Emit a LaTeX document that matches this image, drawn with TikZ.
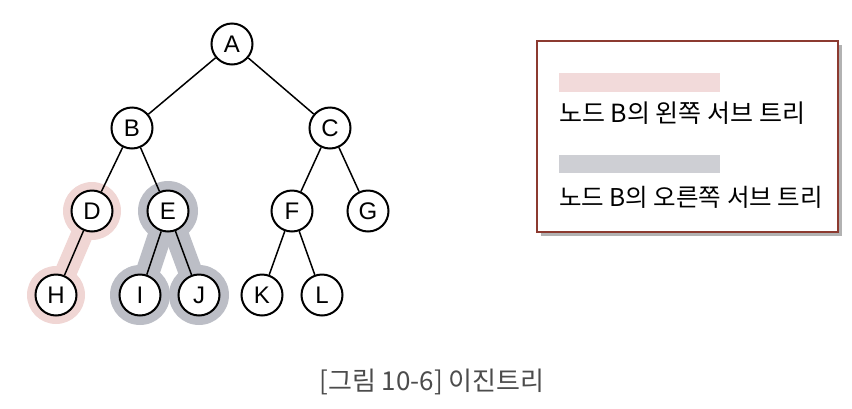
\documentclass[tikz,border=0pt]{standalone}
\usepackage{fontspec}
\setmainfont{Liberation Sans}
\newfontfamily\kr{Noto Sans CJK KR}
\usetikzlibrary{backgrounds}

\definecolor{pinkhalo}{RGB}{240,214,212}
\definecolor{greyhalo}{RGB}{188,190,198}
\definecolor{pinkbar}{RGB}{242,218,218}
\definecolor{greybar}{RGB}{206,207,212}
\definecolor{boxline}{RGB}{140,58,48}

\begin{document}
\begin{tikzpicture}[x=1pt,y=-1pt]

\tikzstyle{vtx} = [circle, draw=black, fill=white, line width=2pt,
  minimum size=41pt, inner sep=0pt, font=\fontsize{24}{24}\selectfont]
\tikzstyle{edge} = [line width=1.5pt]
\tikzstyle{lefthalo} = [pinkhalo]
\tikzstyle{righthalo} = [greyhalo]
\tikzstyle{legendtext} = [anchor=west, inner sep=0pt]

\useasboundingbox (0,0) rectangle (852,408);

% tree
\node[vtx] (A) at (232,44) {A};
\node[vtx] (B) at (132,128) {B};
\node[vtx] (C) at (330,128) {C};
\node[vtx] (D) at (92,211) {D};
\node[vtx] (E) at (168,211) {E};
\node[vtx] (F) at (292,211) {F};
\node[vtx] (G) at (368,211) {G};
\node[vtx] (H) at (56,295) {H};
\node[vtx] (I) at (140,295) {I};
\node[vtx] (J) at (199,295) {J};
\node[vtx] (K) at (262,295) {K};
\node[vtx] (L) at (322,295) {L};

\draw[edge] (A) -- (B);
\draw[edge] (A) -- (C);
\draw[edge] (B) -- (D);
\draw[edge] (B) -- (E);
\draw[edge] (C) -- (F);
\draw[edge] (C) -- (G);
\draw[edge] (D) -- (H);
\draw[edge] (E) -- (I);
\draw[edge] (E) -- (J);
\draw[edge] (F) -- (K);
\draw[edge] (F) -- (L);

% subtrees of B
\begin{scope}[on background layer]
  \fill[lefthalo] (D) circle (29);
  \fill[lefthalo] (H) circle (29);
  \draw[lefthalo, line width=22pt] (D.center) -- (H.center);
  \fill[righthalo] (E) circle (30);
  \fill[righthalo] (I) circle (30);
  \fill[righthalo] (J) circle (30);
  \draw[righthalo, line width=24pt] (E.center) -- (I.center);
  \draw[righthalo, line width=24pt] (E.center) -- (J.center);
\end{scope}

% legend
\begin{scope}
  \fill[black!30] (541,45) rectangle (842,236);
  \filldraw[draw=boxline, fill=white, line width=1.3pt] (537,41) rectangle (838,232);
  \fill[pinkbar] (559,73) rectangle (720,92);
  \fill[greybar] (559,155) rectangle (720,173);
  \node[legendtext, font=\kr\fontsize{25}{25}\selectfont] (leftlbl) at (559,113) {노드 B의 왼쪽 서브 트리};
  \node[legendtext, font=\kr\fontsize{24.5}{25}\selectfont] (rightlbl) at (559,197) {노드 B의 오른쪽 서브 트리};
\end{scope}

\node[text=black!70, font=\kr\fontsize{26}{26}\selectfont] (caption) at (432,382) {[그림 10-6] 이진트리};

\end{tikzpicture}
\end{document}
